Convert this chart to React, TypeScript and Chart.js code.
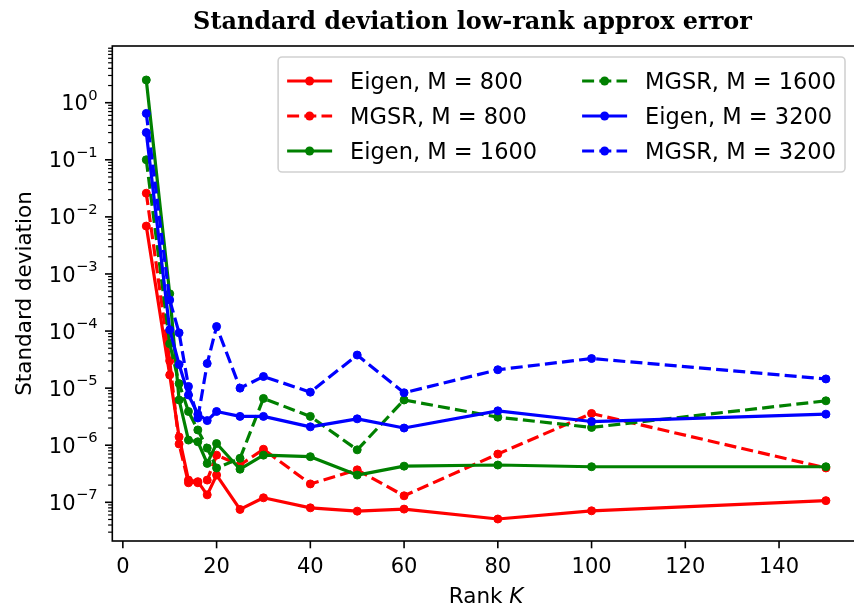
import React, { useEffect, useRef } from "react";
import { Chart, registerables } from "chart.js";
Chart.register(...registerables);

// ---- data ----
const rankK = [5, 10, 12, 14, 16, 18, 20, 25, 30, 40, 50, 60, 80, 100, 150];
const eigen800 = [6.9e-3, 1.7e-5, 1.4e-6, 2.45e-7, 2.3e-7, 1.35e-7, 3.0e-7, 7.5e-8, 1.2e-7, 8.0e-8, 7.0e-8, 7.6e-8, 5.1e-8, 7.1e-8, 1.07e-7];
const mgsr800 = [2.6e-2, 3.0e-5, 1.05e-6, 2.2e-7, 2.2e-7, 2.45e-7, 6.7e-7, 4.5e-7, 8.5e-7, 2.1e-7, 3.7e-7, 1.3e-7, 7.0e-7, 3.6e-6, 4.0e-7];
const eigen1600 = [2.5, 4.5e-4, 6.2e-6, 1.23e-6, 1.15e-6, 4.8e-7, 1.07e-6, 3.8e-7, 6.7e-7, 6.3e-7, 3.0e-7, 4.3e-7, 4.5e-7, 4.2e-7, 4.2e-7];
const mgsr1600 = [0.1, 6.0e-5, 1.2e-5, 3.9e-6, 1.85e-6, 8.9e-7, 4.0e-7, 5.9e-7, 6.6e-6, 3.2e-6, 8.3e-7, 6.2e-6, 3.1e-6, 2.05e-6, 6.0e-6];
const eigen3200 = [0.3, 1.05e-4, 2.6e-5, 7.6e-6, 3.5e-6, 2.7e-6, 3.9e-6, 3.2e-6, 3.2e-6, 2.1e-6, 2.9e-6, 2.0e-6, 4.0e-6, 2.6e-6, 3.5e-6];
const mgsr3200 = [0.65, 3.5e-4, 9.3e-5, 1.07e-5, 3.0e-6, 2.7e-5, 1.2e-4, 1.0e-5, 1.6e-5, 8.5e-6, 3.8e-5, 8.3e-6, 2.1e-5, 3.3e-5, 1.45e-5];

const seriesLabels = [
  "Eigen, M = 800",
  "MGSR, M = 800",
  "Eigen, M = 1600",
  "MGSR, M = 1600",
  "Eigen, M = 3200",
  "MGSR, M = 3200",
];
const xTickValues = [0, 20, 40, 60, 80, 100, 120, 140];
const yTickExponents = [-7, -6, -5, -4, -3, -2, -1, 0];
const titleText = "Standard deviation low-rank approx error";
const yTitle = "Standard deviation";
const xTitleMain = "Rank ";
const xTitleItalic = "K";

const X_MIN = -2.25;
const X_MAX = 157.25;
const Y_MIN = 2.1e-8;
const Y_MAX = 9.85;

const CANVAS_W = 870;
const CANVAS_H = 611;

const colors = ["#ff0000", "#ff0000", "#008000", "#008000", "#0000ff", "#0000ff"];
const dashed = [false, true, false, true, false, true];
const LINE_W = 3.2;
const DASH = [12, 5.2];
const SANS = '"DejaVu Sans"';

const decorPlugin = {
  id: "decor",
  beforeDraw(chart: any) {
    const ctx = chart.ctx;
    ctx.save();
    ctx.fillStyle = "#ffffff";
    ctx.fillRect(0, 0, chart.width, chart.height);
    ctx.restore();
  },
  afterDraw(chart: any) {
    const ctx: CanvasRenderingContext2D = chart.ctx;
    const area = chart.chartArea;
    const xs = chart.scales.x;
    const ys = chart.scales.y;
    ctx.save();

    // frame
    ctx.strokeStyle = "#000";
    ctx.lineWidth = 1.6;
    ctx.setLineDash([]);
    ctx.strokeRect(area.left, area.top, area.right - area.left, area.bottom - area.top);

    // x ticks
    ctx.fillStyle = "#000";
    ctx.font = `21px ${SANS}`;
    ctx.textAlign = "center";
    ctx.textBaseline = "alphabetic";
    for (const v of xTickValues) {
      const px = xs.getPixelForValue(v);
      ctx.beginPath();
      ctx.moveTo(px, area.bottom);
      ctx.lineTo(px, area.bottom + 7.3);
      ctx.lineWidth = 1.6;
      ctx.stroke();
      ctx.fillText(String(v), px, area.bottom + 31.7);
    }

    // y ticks (major + minor)
    for (let e = -9; e <= 1; e++) {
      for (let m = 1; m <= 9; m++) {
        const v = m * Math.pow(10, e);
        if (v < Y_MIN || v > Y_MAX) continue;
        const py = ys.getPixelForValue(v);
        const len = m === 1 ? 7.3 : 4.2;
        ctx.beginPath();
        ctx.moveTo(area.left, py);
        ctx.lineTo(area.left - len, py);
        ctx.lineWidth = m === 1 ? 1.6 : 1.2;
        ctx.stroke();
      }
    }
    const labelRight = area.left - 7.3 - 7.3;
    for (const ex of yTickExponents) {
      const py = ys.getPixelForValue(Math.pow(10, ex));
      const expStr = ex < 0 ? "\u2212" + String(-ex) : String(ex);
      ctx.textAlign = "right";
      ctx.font = `14.7px ${SANS}`;
      const ew = ctx.measureText(expStr).width;
      ctx.fillText(expStr, labelRight, py - 3);
      ctx.font = `21px ${SANS}`;
      ctx.fillText("10", labelRight - ew - 0.5, py + 7.6);
    }

    // y title
    ctx.save();
    ctx.font = `21.5px ${SANS}`;
    ctx.textAlign = "center";
    ctx.textBaseline = "alphabetic";
    ctx.translate(30.5, (area.top + area.bottom) / 2);
    ctx.rotate(-Math.PI / 2);
    ctx.fillText(yTitle, 0, 0);
    ctx.restore();

    // x title with italic K
    ctx.textAlign = "left";
    ctx.font = `21.5px ${SANS}`;
    const w1 = ctx.measureText(xTitleMain).width;
    ctx.font = `oblique 21.5px ${SANS}`;
    const w2 = ctx.measureText(xTitleItalic).width;
    const cx = (area.left + area.right) / 2;
    const sx = cx - (w1 + w2) / 2;
    ctx.font = `21.5px ${SANS}`;
    ctx.fillText(xTitleMain, sx, 603);
    ctx.font = `oblique 21.5px ${SANS}`;
    ctx.fillText(xTitleItalic, sx + w1, 603);

    // chart title
    ctx.font = `bold 100px "DejaVu Serif"`;
    const tw = ctx.measureText(titleText).width;
    const tsize = (100 * 559) / tw;
    ctx.font = `bold ${tsize}px "DejaVu Serif"`;
    ctx.textAlign = "center";
    ctx.fillText(titleText, 472.5, 28.5);

    // legend
    const fs = 22.5;
    ctx.font = `${fs}px ${SANS}`;
    const col1 = [0, 1, 2];
    const col2 = [3, 4, 5];
    const cw1 = Math.max(...col1.map((i) => ctx.measureText(seriesLabels[i]).width));
    const cw2 = Math.max(...col2.map((i) => ctx.measureText(seriesLabels[i]).width));
    const pad = 0.4 * fs, hl = 2 * fs, htp = 0.8 * fs, cs = 2 * fs;
    const rowStep = 35;
    const firstRow = 24;
    const boxH = 115;
    const boxW = pad + hl + htp + cw1 + cs + hl + htp + cw2 + pad;
    const right = area.right - 14.9;
    const left = right - boxW;
    const top = area.top + 11;
    // box
    const r = 4;
    ctx.beginPath();
    ctx.moveTo(left + r, top);
    ctx.lineTo(left + boxW - r, top);
    ctx.arcTo(left + boxW, top, left + boxW, top + r, r);
    ctx.lineTo(left + boxW, top + boxH - r);
    ctx.arcTo(left + boxW, top + boxH, left + boxW - r, top + boxH, r);
    ctx.lineTo(left + r, top + boxH);
    ctx.arcTo(left, top + boxH, left, top + boxH - r, r);
    ctx.lineTo(left, top + r);
    ctx.arcTo(left, top, left + r, top, r);
    ctx.closePath();
    ctx.fillStyle = "rgba(255,255,255,0.8)";
    ctx.fill();
    ctx.strokeStyle = "rgba(204,204,204,0.9)";
    ctx.lineWidth = 1.6;
    ctx.stroke();

    const drawEntry = (i: number, x0: number, rowIdx: number) => {
      const hy = top + firstRow + rowIdx * rowStep;
      const baseline = hy + 0.36 * fs;
      ctx.strokeStyle = colors[i];
      ctx.lineWidth = LINE_W;
      ctx.setLineDash(dashed[i] ? DASH : []);
      ctx.lineCap = "butt";
      ctx.beginPath();
      ctx.moveTo(x0, hy);
      ctx.lineTo(x0 + hl, hy);
      ctx.stroke();
      ctx.setLineDash([]);
      ctx.fillStyle = colors[i];
      ctx.beginPath();
      ctx.arc(x0 + hl / 2, hy, 4.5, 0, Math.PI * 2);
      ctx.fill();
      ctx.fillStyle = "#000";
      ctx.font = `${fs}px ${SANS}`;
      ctx.textAlign = "left";
      ctx.fillText(seriesLabels[i], x0 + hl + htp, baseline);
    };
    col1.forEach((i, r2) => drawEntry(i, left + pad, r2));
    col2.forEach((i, r2) => drawEntry(i, left + pad + hl + htp + cw1 + cs, r2));

    ctx.restore();
  },
};

export default function App() {
  const ref = useRef<HTMLCanvasElement>(null);
  useEffect(() => {
    const canvas = ref.current;
    if (!canvas) return;
    const seriesData = [eigen800, mgsr800, eigen1600, mgsr1600, eigen3200, mgsr3200];
    const datasets = seriesData.map((vals, i) => ({
      label: seriesLabels[i],
      data: rankK.map((k, j) => ({ x: k, y: vals[j] })),
      borderColor: colors[i],
      backgroundColor: colors[i],
      borderWidth: LINE_W,
      borderDash: dashed[i] ? DASH : [],
      borderJoinStyle: "round" as const,
      pointRadius: 4,
      pointBorderWidth: 1,
      pointBackgroundColor: colors[i],
      pointBorderColor: colors[i],
      pointHoverRadius: 4,
      tension: 0,
      fill: false,
      order: 10 - i,
    }));
    const chart = new Chart(canvas, {
      type: "line",
      data: { datasets },
      options: {
        responsive: false,
        animation: false,
        devicePixelRatio: 1,
        events: [],
        layout: { padding: { left: 0, top: 46, right: 10.1, bottom: 0 } },
        plugins: {
          legend: { display: false },
          title: { display: false },
          tooltip: { enabled: false },
        },
        scales: {
          x: {
            type: "linear",
            min: X_MIN,
            max: X_MAX,
            grid: { display: false },
            border: { display: false },
            ticks: { display: false },
            afterFit: (s: any) => {
              s.height = 70;
            },
          },
          y: {
            type: "logarithmic",
            min: Y_MIN,
            max: Y_MAX,
            grid: { display: false },
            border: { display: false },
            ticks: { display: false },
            afterFit: (s: any) => {
              s.width = 112.3;
            },
          },
        },
      },
      plugins: [decorPlugin],
    });
    return () => chart.destroy();
  }, []);
  return (
    <div
      style={{
        position: "absolute",
        left: 0,
        top: 0,
        width: 854,
        height: 611,
        overflow: "hidden",
        background: "#fff",
      }}
    >
      <canvas
        ref={ref}
        width={CANVAS_W}
        height={CANVAS_H}
        style={{ display: "block", width: CANVAS_W, height: CANVAS_H }}
      />
    </div>
  );
}
